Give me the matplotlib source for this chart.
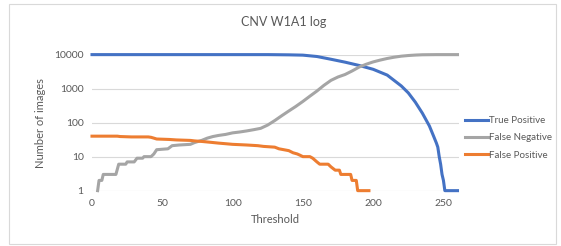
import matplotlib.pyplot as plt
from matplotlib.patches import Rectangle

# threshold / count pairs
tp_x = [0, 125, 140, 150, 160, 170, 180, 190, 200, 210, 220, 225, 230, 235, 240,
        243, 245, 246, 247, 248, 249, 250, 251, 260]
tp_y = [10000, 10000, 9850, 9650, 8800, 7300, 6000, 4800, 3700, 2500, 1200, 750,
        400, 190, 80, 40, 25, 19, 10, 6, 3, 2, 1, 1]

fn_x = [4, 5, 7, 8, 17, 19, 24, 25, 30, 32, 36, 37, 42, 44, 46, 54, 57, 62, 70, 73,
        78, 82, 86, 90, 95, 100, 105, 110, 115, 120, 125, 130, 135, 140, 145, 150,
        155, 160, 165, 170, 175, 180, 185, 190, 195, 200, 205, 210, 215, 220, 225,
        230, 235, 245, 260]
fn_y = [1, 2, 2, 3, 3, 6, 6, 7, 7, 9, 9, 10, 10, 12, 16, 17, 21, 22, 23, 26,
        30, 35, 39, 42, 45, 50, 53, 57, 62, 68, 85, 115, 160, 220, 300, 420,
        600, 850, 1250, 1750, 2200, 2600, 3300, 4300, 5200, 6100, 6900, 7700, 8400,
        9000, 9400, 9700, 9900, 10000, 10000]

fp_x = [0, 18, 20, 28, 40, 42, 44, 46, 55, 60, 70, 73, 78, 82, 86, 90, 95, 100, 110,
        118, 122, 130, 133, 140, 143, 146, 148, 150, 155, 157, 160, 162, 168, 170,
        173, 176, 177, 184, 185, 188, 189, 197]
fp_y = [40, 40, 39, 38, 38, 37, 35, 33, 32, 31, 30, 29, 28, 27, 26, 25, 24, 23, 22,
        21, 20, 19, 17, 15, 13, 12, 11, 10, 10, 9, 7, 6, 6, 5, 4, 4, 3, 3, 2, 2, 1, 1]

txt = "#595959"
plt.rcParams['font.family'] = ['Lato', 'DejaVu Sans']

fig = plt.figure(figsize=(5.61, 2.46), dpi=100)
ax = fig.add_axes([0.164, 0.225, 0.654, 0.553])

ax.plot(tp_x, tp_y, color="#4472C4", lw=2.2, label="True Positive", clip_on=False)
ax.plot(fn_x, fn_y, color="#A5A5A5", lw=2.2, label="False Negative", clip_on=False)
ax.plot(fp_x, fp_y, color="#ED7D31", lw=2.2, label="False Positive", clip_on=False)

ax.set_yscale("log")
ax.set_ylim(1, 10000)
ax.set_xlim(0, 261)
ax.set_yticks([1, 10, 100, 1000, 10000])
ax.set_yticklabels(["1", "10", "100", "1000", "10000"])
ax.minorticks_off()
ax.set_xticks([0, 50, 100, 150, 200, 250])
ax.tick_params(length=0, labelsize=7.5, colors=txt, pad=6)
ax.grid(axis="y", color="#D9D9D9", lw=0.8)
ax.set_axisbelow(True)
for s in ax.spines.values():
    s.set_visible(False)

ax.set_xlabel("Threshold", fontsize=8, color=txt, labelpad=4)
ax.set_ylabel("Number of images", fontsize=8, color=txt, labelpad=6)
fig.text(0.505, 0.91, "CNV W1A1 log", ha="center", va="center", fontsize=9, color=txt)

fig.legend(loc="center left", bbox_to_anchor=(0.828, 0.44), frameon=False,
           fontsize=7, labelcolor=txt, handlelength=2.4, handletextpad=0.15,
           labelspacing=0.85, borderpad=0, borderaxespad=0)

fig.patches.append(Rectangle((0.016, 0.01), 0.975, 0.975, transform=fig.transFigure,
                             fill=False, edgecolor="#D9D9D9", lw=0.8))

fig.savefig("out.png", dpi=100)
